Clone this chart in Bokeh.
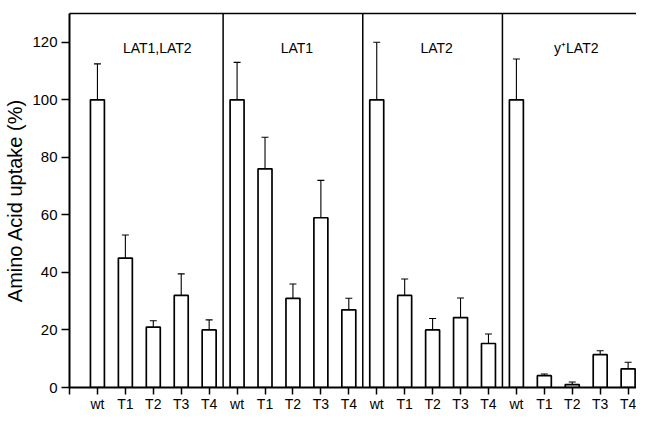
from bokeh.plotting import figure
from bokeh.models import (ColumnDataSource, FixedTicker, LinearAxis, Span, Whisker,
                          TeeHead, Range1d)
from bokeh.core.properties import value
from bokeh.embed import file_html
from bokeh.resources import INLINE

groups = ["LAT1,LAT2", "LAT1", "LAT2", "y\u207aLAT2"]
strains = ["wt", "T1", "T2", "T3", "T4"]

uptake_lat1_lat2 = [100, 45, 21, 32, 20]
err_lat1_lat2 = [12.5, 8, 2.2, 7.5, 3.5]
uptake_lat1 = [100, 76, 31, 59, 27]
err_lat1 = [13, 11, 5, 13, 4]
uptake_lat2 = [100, 32, 20, 24.3, 15.3]
err_lat2 = [20, 5.7, 4, 6.8, 3.3]
uptake_ylat2 = [100, 4.1, 1.0, 11.4, 6.5]
err_ylat2 = [14.2, 0.6, 0.9, 1.4, 2.3]

y_ticks = [0, 20, 40, 60, 80, 100, 120]

series = [uptake_lat1_lat2, uptake_lat1, uptake_lat2, uptake_ylat2]
errors = [err_lat1_lat2, err_lat1, err_lat2, err_ylat2]

xs, tops, uppers, labels = [], [], [], []
pos = 1
group_centers, boundaries = [], []
for vals, errs in zip(series, errors):
    start = pos
    for s, v, e in zip(strains, vals, errs):
        xs.append(pos)
        tops.append(v)
        uppers.append(v + e)
        labels.append(s)
        pos += 1
    group_centers.append((start + pos - 1) / 2)
    boundaries.append(pos - 0.5)

src = ColumnDataSource(dict(x=xs, top=tops, upper=uppers))

FONT = "Liberation Sans"

p = figure(width=636, height=414, output_backend="svg", toolbar_location=None,
           x_range=Range1d(0, 20.3), y_range=Range1d(0, 130))
p.min_border_left = 69
p.min_border_right = 0
p.min_border_top = 13
p.min_border_bottom = 0
p.outline_line_color = None
p.grid.visible = False
p.background_fill_color = "white"
p.border_fill_color = "white"

p.vbar(x="x", top="top", width=0.5, bottom=0, source=src,
       fill_color="white", line_color="black", line_width=1.7)

w = Whisker(source=src, base="x", lower="top", upper="upper",
            line_color="black", line_width=1.1,
            upper_head=TeeHead(size=7, line_color="black", line_width=1.1),
            lower_head=None)
p.add_layout(w)

for b in boundaries[:-1]:
    p.add_layout(Span(location=b, dimension="height", line_color="black", line_width=1.5))

p.text(x=group_centers, y=[118] * len(groups), text=groups,
       text_font=value(FONT), text_font_size="14px", text_align="center",
       text_baseline="middle", text_color="black", x_offset=4)

# x axis
xa = p.xaxis[0]
xa.axis_label = None
xa.ticker = FixedTicker(ticks=[0] + xs)
xa.major_label_overrides = {0: ""} | {x: l for x, l in zip(xs, labels)}
xa.minor_tick_line_color = None
xa.major_tick_out = 7
xa.major_tick_in = 0
xa.axis_line_width = 2
xa.major_tick_line_width = 1.5
xa.major_label_text_font = FONT
xa.major_label_text_font_size = "14px"
xa.major_label_text_color = "black"
xa.major_label_standoff = 1

ya = p.yaxis[0]
ya.ticker = FixedTicker(ticks=y_ticks)
ya.minor_tick_line_color = None
ya.major_tick_out = 8
ya.major_tick_in = 0
ya.axis_line_width = 2
ya.major_tick_line_width = 1.5
ya.major_label_text_font = FONT
ya.major_label_text_font_size = "15px"
ya.major_label_text_color = "black"
ya.major_label_standoff = 4
ya.axis_label = "Amino Acid uptake (%)"
ya.axis_label_text_font = FONT
ya.axis_label_text_font_size = "20px"
ya.axis_label_text_font_style = "normal"
ya.axis_label_text_color = "black"
ya.axis_label_standoff = 3

top_axis = LinearAxis(ticker=FixedTicker(ticks=[]), major_label_text_font_size="0px",
                      major_tick_out=0, major_tick_in=0, minor_tick_out=0,
                      minor_tick_in=0, axis_line_width=1.5, axis_line_color="black",
                      axis_label=None)
p.add_layout(top_axis, "above")

open("out.html", "w").write(file_html(p, INLINE))
